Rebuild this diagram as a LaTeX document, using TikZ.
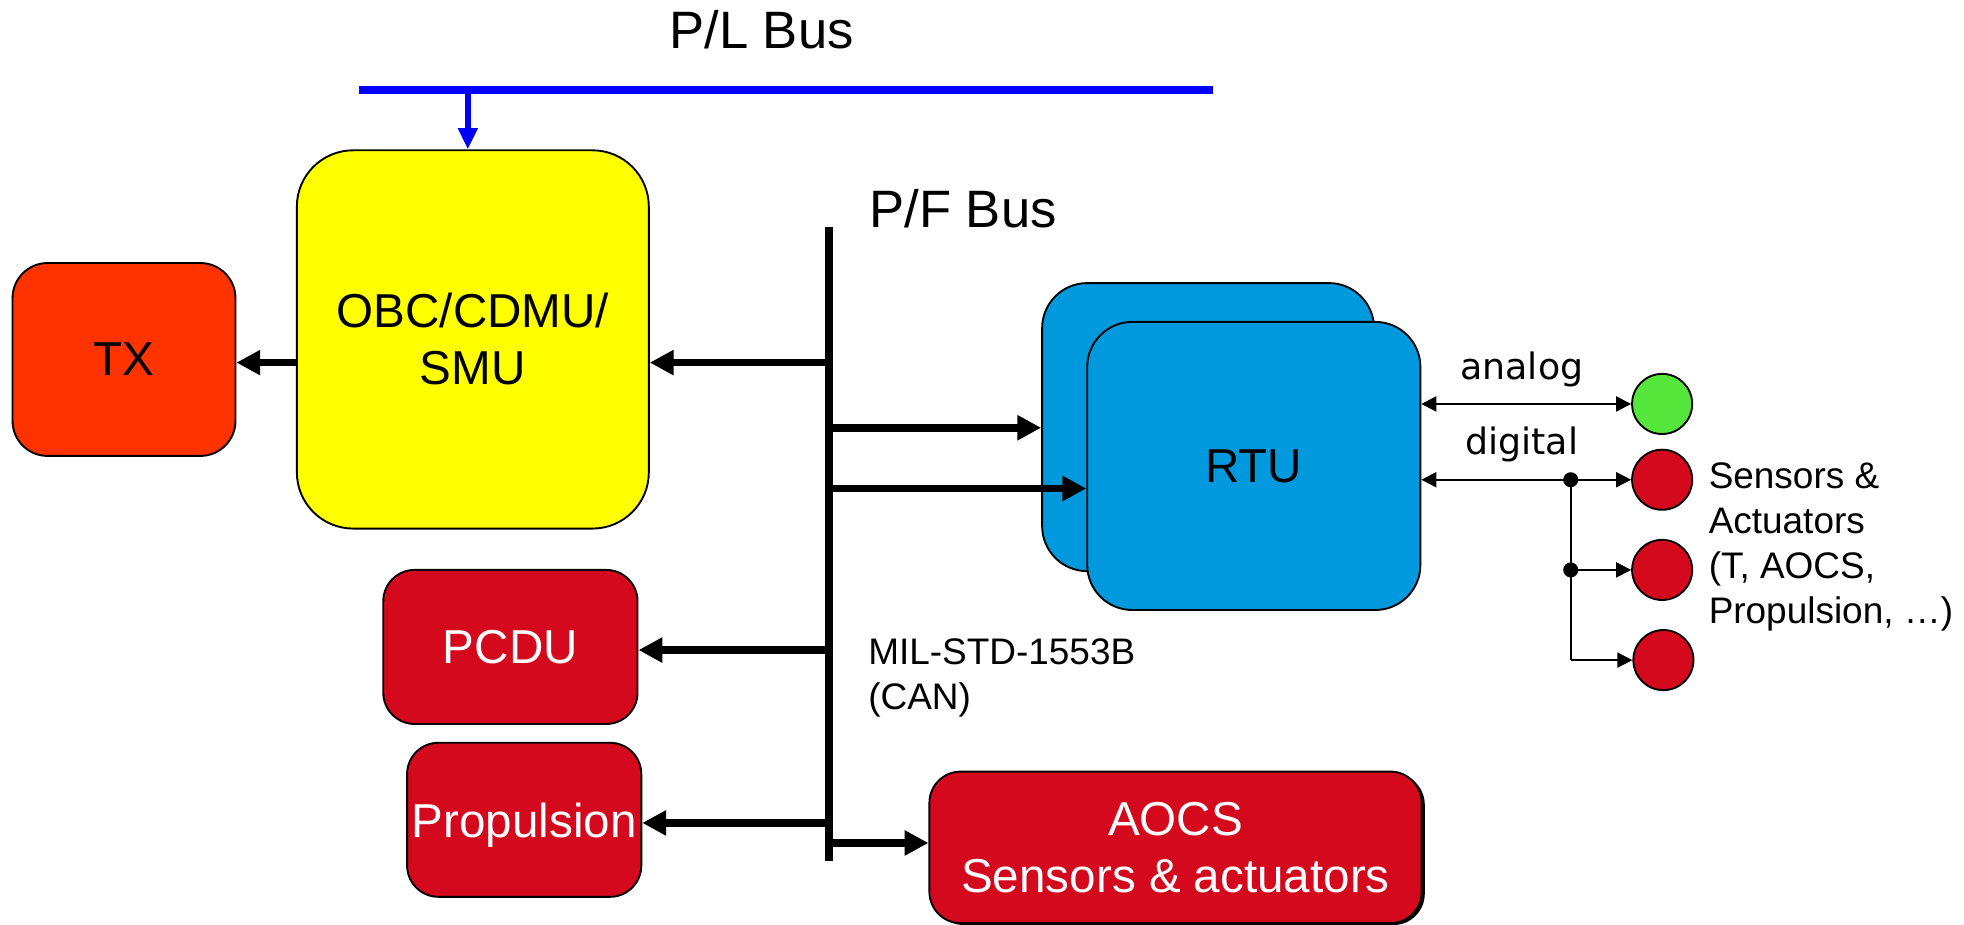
\documentclass[tikz,border=0pt]{standalone}
\usepackage{fontspec}
\setmainfont{Liberation Sans}
\newfontfamily\dvfont{DejaVu Sans}
\usetikzlibrary{arrows.meta,shadows}
\definecolor{obcyellow}{RGB}{255,255,0}
\definecolor{txorange}{RGB}{255,51,0}
\definecolor{unitred}{RGB}{212,9,30}
\definecolor{rtublue}{RGB}{0,153,221}
\definecolor{anagreen}{RGB}{85,230,60}
\definecolor{plblue}{RGB}{0,0,255}
\begin{document}
\begin{tikzpicture}[x=1pt,y=-1pt,
  unitbox/.style={draw=black, line width=1.5pt, inner sep=0pt, align=center},
  mainfont/.style={font=\fontsize{38}{45.5}\selectfont},
  busfont/.style={font=\fontsize{42}{50}\selectfont},
  smallfont/.style={font=\fontsize{29.5}{35.7}\selectfont},
  sigfont/.style={font=\dvfont\fontsize{29}{35}\selectfont},
  bigarrow/.style={line width=6pt, -{Triangle[length=19pt,width=19pt]}},
  bluearrow/.style={plblue, line width=5pt, -{Triangle[length=17pt,width=15pt]}},
  sigboth/.style={line width=1.6pt, {Triangle[length=12pt,width=12pt]}-{Triangle[length=12pt,width=12pt]}},
  sigone/.style={line width=1.6pt, -{Triangle[length=12pt,width=12pt]}},
  sensor/.style={circle, draw=black, line width=1.5pt, minimum size=48pt, inner sep=0pt},
]
\useasboundingbox (0,0) rectangle (1568,738);

% boxes
\node[unitbox, fill=txorange, minimum width=178pt, minimum height=154pt, rounded corners=28pt, mainfont] (tx) at (99,287) {TX};
\node[unitbox, fill=obcyellow, minimum width=281pt, minimum height=302pt, rounded corners=45pt, mainfont] (obc) at (377.5,271) {OBC/CDMU/\\SMU};
\node[unitbox, fill=rtublue, minimum width=265pt, minimum height=230pt, rounded corners=36pt] (rtuback) at (964.5,341) {};
\node[unitbox, fill=rtublue, minimum width=266pt, minimum height=230pt, rounded corners=36pt, mainfont] (rtu) at (1001,372) {RTU};
\node[unitbox, fill=unitred, text=white, minimum width=203pt, minimum height=123pt, rounded corners=25pt, mainfont] (pcdu) at (407.5,516.5) {PCDU};
\node[unitbox, fill=unitred, text=white, minimum width=187pt, minimum height=123pt, rounded corners=25pt, mainfont, text depth=0pt] (prop) at (418.5,654.5) {Propulsion};
\node[unitbox, fill=unitred, text=white, minimum width=393pt, minimum height=121pt, rounded corners=25pt, mainfont,
  drop shadow={shadow xshift=2.5pt, shadow yshift=-1.5pt, fill=black, opacity=1}] (aocs) at (938.5,676.5) {AOCS\\Sensors \& actuators};

% sensors
\node[sensor, fill=anagreen] (green) at (1327,322.5) {};
\node[sensor, fill=unitred] (red1) at (1327,383) {};
\node[sensor, fill=unitred] (red2) at (1327,455) {};
\node[sensor, fill=unitred] (red3) at (1328,527) {};

% labels
\node[busfont, anchor=base, inner sep=0pt] (pllabel) at (608,38.6) {P/L Bus};
\node[busfont, anchor=base west, inner sep=0pt] (pflabel) at (694,182) {P/F Bus};
\node[smallfont, anchor=north west, align=left, inner sep=0pt] (millabel) at (693,510) {MIL-STD-1553B\\(CAN)};
\node[smallfont, anchor=north west, align=left, inner sep=0pt] (salabel) at (1364,369.5) {Sensors \&\\Actuators\\(T, AOCS,\\Propulsion, …)};
\node[sigfont, anchor=base, inner sep=0pt] (analogl) at (1215,303) {analog};
\node[sigfont, anchor=base, inner sep=0pt] (digitall) at (1215,363) {digital};

% P/L bus
\coordinate (pla) at (286.5,72);
\coordinate (plb) at (968.5,72);
\coordinate (plt) at (373.5,72);
\draw[plblue, line width=6.4pt] (pla) -- (plb);
\draw[bluearrow] (plt) -- (plt |- obc.north);

% P/F bus
\coordinate (pfa) at (662,181);
\coordinate (pfb) at (662,687);
\draw[line width=6pt] (pfa) -- (pfb);
\coordinate (b1) at (662,289.5);
\coordinate (b2) at (662,341.5);
\coordinate (b3) at (662,390);
\coordinate (b4) at (662,519);
\coordinate (b5) at (662,657);
\coordinate (b6) at (662,673);
\draw[bigarrow] (b1) -- (b1 -| obc.east);
\draw[bigarrow] (obc.west |- b1) -- (tx.east |- b1);
\draw[bigarrow] (b2) -- (b2 -| rtuback.west);
\draw[bigarrow] (b3) -- (b3 -| rtu.west);
\draw[bigarrow] (b4) -- (b4 -| pcdu.east);
\draw[bigarrow] (b5) -- (b5 -| prop.east);
\draw[bigarrow] (b6) -- (b6 -| aocs.west);

% signal lines
\coordinate (j1) at (1254,383);
\coordinate (j2) at (1254,455);
\coordinate (j3) at (1254,527);
\draw[sigboth] (green.west -| rtu.east) -- (green.west);
\draw[sigboth] (red1.west -| rtu.east) -- (red1.west);
\draw[line width=1.6pt] (j1) -- (j3);
\draw[sigone] (j2) -- (red2.west);
\draw[sigone] (j3) -- (red3.west);
\fill (j1) circle (6pt);
\fill (j2) circle (6pt);
\end{tikzpicture}
\end{document}
